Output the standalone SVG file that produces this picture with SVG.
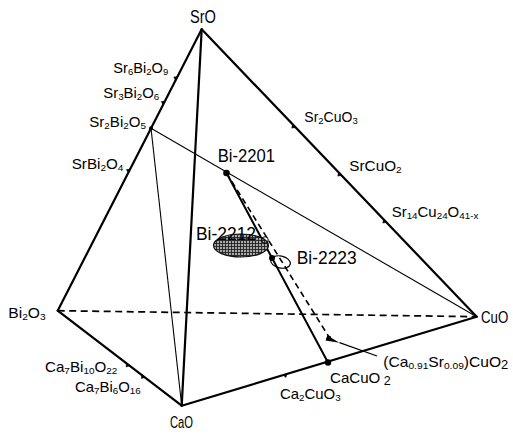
<svg xmlns="http://www.w3.org/2000/svg" width="513" height="434" viewBox="0 0 513 434">
<style>
text{font-family:"Liberation Sans",Arial,sans-serif;fill:#000;}
.lbl{font-size:14.5px;}
.big{font-size:18px;}
.edge{stroke:#000;stroke-width:2.2;fill:none;stroke-linecap:round;}
.thin{stroke:#000;stroke-width:1.1;fill:none;}
.dash{stroke:#000;stroke-width:1.7;fill:none;stroke-dasharray:7 4.5;}
.tick{fill:#000;stroke:#000;stroke-width:0.6;}
.dot{fill:#000;}
</style>
<defs>
<pattern id="hatch" patternUnits="userSpaceOnUse" width="3" height="3">
<rect width="3" height="3" fill="#a8a8a8"/>
<path d="M0 0.5H3M0.5 0V3" stroke="#222" stroke-width="0.9"/>
</pattern>
<marker id="ah" viewBox="0 0 14 6" refX="0" refY="3" markerWidth="14" markerHeight="6" markerUnits="userSpaceOnUse" orient="auto">
<path d="M0 3L14 0.4L14 5.6Z" fill="#000"/>
</marker>
</defs>

<g id="connectors">
<line class="edge" x1="201.7" y1="29.3" x2="57.7" y2="310.7"/>
<line class="edge" x1="201.7" y1="29.3" x2="181.7" y2="405.7"/>
<line class="edge" x1="201.7" y1="29.3" x2="476.7" y2="316.7"/>
<line class="edge" x1="57.7" y1="310.7" x2="181.7" y2="405.7"/>
<line class="edge" x1="181.7" y1="405.7" x2="476.7" y2="316.7"/>
<line class="dash" x1="57.7" y1="310.7" x2="476.7" y2="316.7"/>
<line class="thin" x1="151" y1="128.3" x2="181.7" y2="405.7"/>
<line class="thin" x1="151" y1="128.3" x2="476.7" y2="316.7"/>
<line class="edge" style="stroke-width:2" x1="226.5" y1="173" x2="328" y2="362.5"/>
<line class="dash" style="stroke-width:1.6;stroke-dasharray:6 4" x1="226.5" y1="173" x2="329.3" y2="337.5"/>
<line x1="377" y1="356" x2="339.5" y2="342.7" stroke="#000" stroke-width="1.3" marker-end="url(#ah)"/>
</g>

<g id="ticks">
<path class="tick" d="M177.4 76.7L175.6 80.3L173.8 77.1Z"/>
<path class="tick" d="M164.9 101.2L163.1 104.8L161.3 101.6Z"/>
<path class="tick" d="M130.1 169.2L128.3 172.8L126.5 169.6Z"/>
<path class="tick" d="M292.6 124.6L295.4 127.4L291.8 128.1Z"/>
<path class="tick" d="M338.6 172.6L341.4 175.4L337.8 176.1Z"/>
<path class="tick" d="M383.6 219.5L386.4 222.3L382.8 223Z"/>
<path class="tick" d="M126.4 363.4L129.6 365.8L126.2 367Z"/>
<path class="tick" d="M141.7 374.9L144.9 377.3L141.5 378.5Z"/>
<path class="tick" d="M283.1 375.1L286.9 373.9L285.9 377.4Z"/>
</g>

<g id="SrO"><text class="big" x="190" y="22.7" textLength="26" lengthAdjust="spacingAndGlyphs">SrO</text></g>
<g id="Bi2O3"><text class="lbl" x="8.3" y="317.7" textLength="37.4" lengthAdjust="spacingAndGlyphs">Bi<tspan font-size="9.5" dy="2">2</tspan><tspan dy="-2">O</tspan><tspan font-size="9.5" dy="2">3</tspan></text></g>
<g id="CaO"><text class="lbl" style="font-size:16px" x="170" y="428.3" textLength="23" lengthAdjust="spacingAndGlyphs">CaO</text></g>
<g id="CuO"><text class="lbl" style="font-size:16px" x="481" y="323.3" textLength="27.3" lengthAdjust="spacingAndGlyphs">CuO</text></g>

<g id="Sr6Bi2O9"><text class="lbl" x="113.3" y="72.7" textLength="55" lengthAdjust="spacingAndGlyphs">Sr<tspan font-size="9.5" dy="2">6</tspan><tspan dy="-2">Bi</tspan><tspan font-size="9.5" dy="2">2</tspan><tspan dy="-2">O</tspan><tspan font-size="9.5" dy="2">9</tspan></text></g>
<g id="Sr3Bi2O6"><text class="lbl" x="103.3" y="98.3" textLength="56" lengthAdjust="spacingAndGlyphs">Sr<tspan font-size="9.5" dy="2">3</tspan><tspan dy="-2">Bi</tspan><tspan font-size="9.5" dy="2">2</tspan><tspan dy="-2">O</tspan><tspan font-size="9.5" dy="2">6</tspan></text></g>
<g id="Sr2Bi2O5"><circle class="dot" cx="151" cy="128.3" r="2"/><text class="lbl" x="89.3" y="126.7" textLength="56.7" lengthAdjust="spacingAndGlyphs">Sr<tspan font-size="9.5" dy="2">2</tspan><tspan dy="-2">Bi</tspan><tspan font-size="9.5" dy="2">2</tspan><tspan dy="-2">O</tspan><tspan font-size="9.5" dy="2">5</tspan></text></g>
<g id="SrBi2O4"><text class="lbl" x="71.7" y="169.3" textLength="51.7" lengthAdjust="spacingAndGlyphs">SrBi<tspan font-size="9.5" dy="2">2</tspan><tspan dy="-2">O</tspan><tspan font-size="9.5" dy="2">4</tspan></text></g>
<g id="Ca7Bi10O22"><text class="lbl" x="45" y="371.7" textLength="72.3" lengthAdjust="spacingAndGlyphs">Ca<tspan font-size="9.5" dy="2">7</tspan><tspan dy="-2">Bi</tspan><tspan font-size="9.5" dy="2">10</tspan><tspan dy="-2">O</tspan><tspan font-size="9.5" dy="2">22</tspan></text></g>
<g id="Ca7Bi6O16"><text class="lbl" x="75" y="391.7" textLength="65.7" lengthAdjust="spacingAndGlyphs">Ca<tspan font-size="9.5" dy="2">7</tspan><tspan dy="-2">Bi</tspan><tspan font-size="9.5" dy="2">6</tspan><tspan dy="-2">O</tspan><tspan font-size="9.5" dy="2">16</tspan></text></g>
<g id="Sr2CuO3"><text class="lbl" style="font-size:14px" x="304.3" y="122.3">Sr<tspan font-size="9.5" dy="2">2</tspan><tspan dy="-2">CuO</tspan><tspan font-size="9.5" dy="2">3</tspan></text></g>
<g id="SrCuO2"><text class="lbl" x="349.3" y="170.7" textLength="52.4" lengthAdjust="spacingAndGlyphs">SrCuO<tspan font-size="9.5" dy="2">2</tspan></text></g>
<g id="Sr14Cu24O41-x"><text class="lbl" x="391.7" y="216.7" textLength="86.6" lengthAdjust="spacingAndGlyphs">Sr<tspan font-size="9.5" dy="2">14</tspan><tspan dy="-2">Cu</tspan><tspan font-size="9.5" dy="2">24</tspan><tspan dy="-2">O</tspan><tspan font-size="9.5" dy="2">41-x</tspan></text></g>
<g id="Ca2CuO3"><text class="lbl" x="280" y="399" textLength="60.7" lengthAdjust="spacingAndGlyphs">Ca<tspan font-size="9.5" dy="2">2</tspan><tspan dy="-2">CuO</tspan><tspan font-size="9.5" dy="2">3</tspan></text></g>
<g id="CaCuO2"><circle class="dot" cx="328" cy="362.5" r="3.2"/><text class="lbl" x="330" y="382.7" textLength="60.7" lengthAdjust="spacingAndGlyphs">CaCuO<tspan font-size="12" dy="2"> 2</tspan></text></g>
<g id="Ca091Sr009CuO2"><circle class="dot" cx="329.3" cy="337.5" r="1.8"/><text class="lbl" x="383.3" y="367.3" textLength="125" lengthAdjust="spacingAndGlyphs">(Ca<tspan font-size="9.5" dy="2">0.91</tspan><tspan dy="-2">Sr</tspan><tspan font-size="9.5" dy="2">0.09</tspan><tspan dy="-2">)CuO</tspan><tspan font-size="12" dy="2">2</tspan></text></g>

<g id="Bi-2201"><circle class="dot" cx="226.5" cy="173" r="3.3"/><text class="big" x="217.7" y="161.7" textLength="57.3" lengthAdjust="spacingAndGlyphs">Bi-2201</text></g>
<g id="Bi-2212"><ellipse cx="241" cy="245.5" rx="27.5" ry="11.5" fill="url(#hatch)" stroke="#111" stroke-width="1.2"/><circle cx="265" cy="240" r="3.3" fill="none" stroke="#000" stroke-width="1"/><text class="big" x="196" y="240" textLength="60" lengthAdjust="spacingAndGlyphs">Bi-2212</text></g>
<g id="Bi-2223"><ellipse cx="280.5" cy="262" rx="10" ry="6" transform="rotate(12 280.5 262)" fill="none" stroke="#000" stroke-width="1.2"/><circle class="dot" cx="272" cy="258" r="3"/><text class="big" x="296.7" y="264" textLength="60" lengthAdjust="spacingAndGlyphs">Bi-2223</text></g>
</svg>
